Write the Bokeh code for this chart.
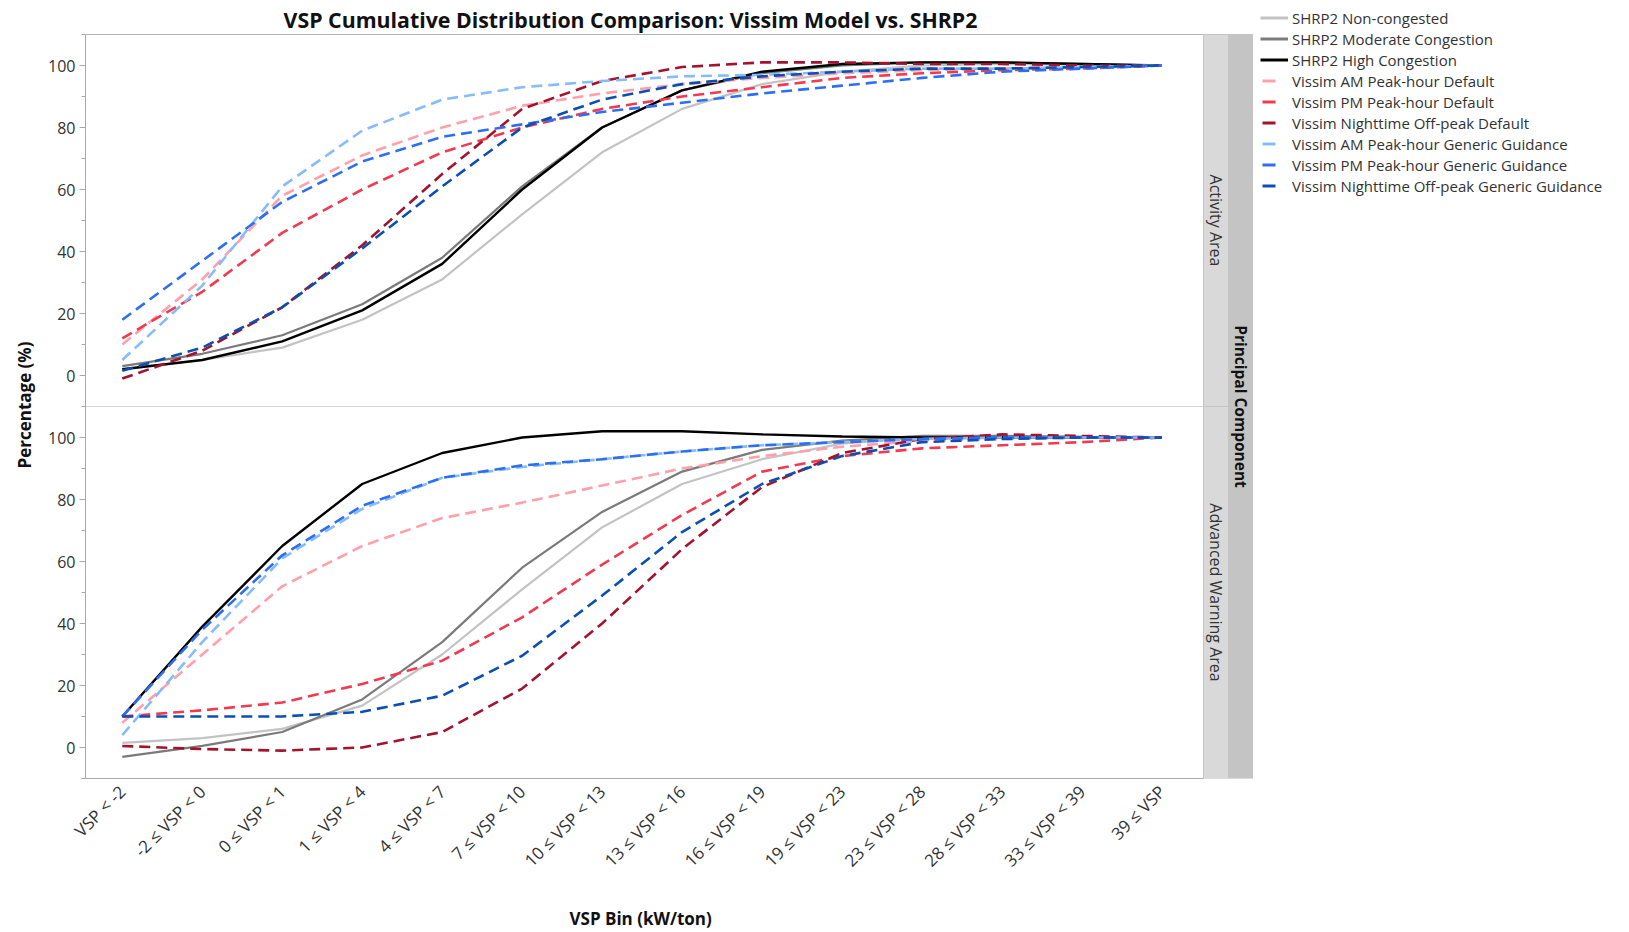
import math
from bokeh.plotting import figure
from bokeh.models import (Range1d, FixedTicker, Legend, LegendItem, Label, Title)
from bokeh.core.properties import value
from bokeh.embed import file_html
from bokeh.resources import INLINE

# ---------------- data ----------------
categories = ["VSP < -2", "-2 \u2264 VSP < 0", "0 \u2264 VSP < 1", "1 \u2264 VSP < 4",
              "4 \u2264 VSP < 7", "7 \u2264 VSP < 10", "10 \u2264 VSP < 13", "13 \u2264 VSP < 16",
              "16 \u2264 VSP < 19", "19 \u2264 VSP < 23", "23 \u2264 VSP < 28", "28 \u2264 VSP < 33",
              "33 \u2264 VSP < 39", "39 \u2264 VSP"]

series_names = ["SHRP2 Non-congested", "SHRP2 Moderate Congestion", "SHRP2 High Congestion",
                "Vissim AM Peak-hour Default", "Vissim PM Peak-hour Default",
                "Vissim Nighttime Off-peak Default", "Vissim AM Peak-hour Generic Guidance",
                "Vissim PM Peak-hour Generic Guidance", "Vissim Nighttime Off-peak Generic Guidance"]

# Activity Area
act_shrp2_non = [2, 5, 9, 18, 31, 52, 72, 86, 94, 98, 100, 100.5, 100.3, 100]
act_shrp2_mod = [3, 7, 13, 23, 38, 61, 80, 92, 97.5, 100, 101, 101, 100.5, 100]
act_shrp2_high = [2, 5, 11, 21, 36, 60, 80, 92, 98, 100.5, 101, 101, 100.5, 100]
act_am_default = [10, 31, 58, 71, 80, 87, 91, 94, 96, 97.5, 98.5, 99, 99.5, 100]
act_pm_default = [12, 27, 46, 60, 72, 80, 86, 90, 93, 96, 97.5, 98.5, 99, 100]
act_night_default = [-1, 8, 22, 42, 65, 86, 95, 99.5, 101, 101, 100.5, 100.5, 100, 100]
act_am_generic = [5, 29, 61, 79, 89, 93, 95, 96.5, 97, 98, 99, 99, 99.5, 100]
act_pm_generic = [18, 37, 56, 69, 77, 81, 85, 88, 91, 93.5, 96, 98, 99, 100]
act_night_generic = [1.5, 9, 22, 41, 61, 80, 89, 94, 96.5, 98, 99, 99, 99.5, 100]

# Advanced Warning Area
adv_shrp2_non = [1.5, 3, 6, 13.5, 30, 51, 71, 85, 93, 98, 100, 100.5, 100.2, 100]
adv_shrp2_mod = [-3, 0.5, 5, 15.5, 34, 58, 76, 89, 96, 99, 100.5, 100.5, 100.2, 100]
adv_shrp2_high = [10, 39, 65, 85, 95, 100, 102, 102, 101, 100.3, 100, 100, 100, 100]
adv_am_default = [8, 30, 52, 65, 74, 79, 84.5, 90, 94, 97, 99, 99.5, 100, 100]
adv_pm_default = [10, 12, 14.5, 20.5, 28, 42, 59, 75, 89, 94, 96.5, 97.5, 98.5, 100]
adv_night_default = [0.5, -0.5, -1, 0, 5, 19, 40, 64, 84, 95, 99.5, 101, 100.5, 100]
adv_am_generic = [4, 34, 61, 77, 87, 90.5, 93, 95.5, 97.5, 98.5, 99.5, 100, 100, 100]
adv_pm_generic = [10, 38, 62, 78, 87, 91, 93, 95.5, 97.5, 98.5, 99.5, 100, 100, 100]
adv_night_generic = [10, 10, 10, 11.5, 16.7, 29.6, 49, 69.5, 85, 94, 98.5, 99.5, 100, 100]

activity = [act_shrp2_non, act_shrp2_mod, act_shrp2_high, act_am_default, act_pm_default,
            act_night_default, act_am_generic, act_pm_generic, act_night_generic]
advanced = [adv_shrp2_non, adv_shrp2_mod, adv_shrp2_high, adv_am_default, adv_pm_default,
            adv_night_default, adv_am_generic, adv_pm_generic, adv_night_generic]

y_ticks = [0, 20, 40, 60, 80, 100]
panel_names = ["Activity Area", "Advanced Warning Area"]
outer_name = "Principal Component"
title_text = "VSP Cumulative Distribution Comparison: Vissim Model vs. SHRP2"
x_title = "VSP Bin (kW/ton)"
y_title = "Percentage (%)"

# ---------------- styles / layout ----------------
colors = ["#c3c3c3", "#7a7a7a", "#000000", "#ffa0ab", "#f23a4f", "#a3132e",
          "#86bcff", "#2d6ff2", "#0b4fb3"]
dashes = ["solid", "solid", "solid"] + ["11 6"] * 6
widths = [2.2, 2.2, 2.4] + [2.6] * 6

W, H = 1629, 932
left_px = 85            # frame left (px)
panel_top_px = 34       # top of upper panel (px)
bottom_px = 778         # frame bottom (px)
plot_right_px = 1203    # right edge of plotting area (px)
strip1_px, strip2_px = 25, 24
x0, x1 = -0.46, 13.52
ppu = (plot_right_px - left_px) / (x1 - x0)        # px per category
ppy = (bottom_px - panel_top_px) / 240.0          # px per y unit
OFF = 120                                          # offset of upper panel
xs1 = x1 + strip1_px / ppu
xs2 = xs1 + strip2_px / ppu
x_end = x0 + (W - left_px) / ppu
y_top = 230 + panel_top_px / ppy

p = figure(width=W, height=H, output_backend="svg", toolbar_location=None, title=None,
           x_range=Range1d(x0, x_end), y_range=Range1d(-10, y_top),
           min_border_left=left_px, min_border_right=0,
           min_border_top=0, min_border_bottom=H - bottom_px)
p.background_fill_color = "white"
p.border_fill_color = "white"
p.outline_line_color = None
p.xgrid.visible = False
p.ygrid.visible = False

# title
p.add_layout(Label(x=x0 + (630 - left_px) / ppu, y=y_top - 19 / ppy, text=title_text,
                   text_align="center", text_baseline="middle", text_font="Open Sans",
                   text_font_style="bold", text_font_size="21.3px", text_color="#111111"))

# panel border (top) and strips
p.segment(x0=[x0], x1=[xs2], y0=[230], y1=[230], line_color="#b4b4b4", line_width=1.2)
p.quad(left=[x1, x1], right=[xs1, xs1], bottom=[-10 + OFF, -10], top=[110 + OFF, 110],
       fill_color="#d9d9d9", line_color="#c4c4c4", line_width=1)
p.quad(left=[xs1], right=[xs2], bottom=[-10], top=[230],
       fill_color="#c4c4c4", line_color="#c4c4c4", line_width=1)
p.text(x=[(x1 + xs1) / 2] * 2, y=[50 + OFF, 50], text=panel_names, angle=-math.pi / 2,
       text_align="center", text_baseline="middle", text_font=value("Open Sans"),
       text_font_size="16px", text_color="#333333")
p.text(x=[(xs1 + xs2) / 2], y=[110], text=[outer_name], angle=-math.pi / 2,
       text_align="center", text_baseline="middle", text_font=value("Open Sans"),
       text_font_size="15.5px", text_font_style="bold", text_color="#111111")

# separator between panels
p.segment(x0=[x0], x1=[x1], y0=[110], y1=[110], line_color="#d4d4d4", line_width=1.2)

xs = list(range(len(categories)))
items = []
for name, up, lo, c, d, w in zip(series_names, activity, advanced, colors, dashes, widths):
    p.line(x=xs, y=[v + OFF for v in up], line_color=c, line_dash=d, line_width=w)
    p.line(x=xs, y=lo, line_color=c, line_dash=d, line_width=w)
    # legend swatch (no visible mark in the plot)
    if d == "solid":
        sw = p.line(x=[float("nan")], y=[float("nan")], line_color=c, line_width=3)
    else:
        sw = p.line(x=[float("nan")], y=[float("nan")], line_color=c, line_width=3,
                    line_dash="13 40", line_dash_offset=-2)
    items.append(LegendItem(label=name, renderers=[sw]))

# axes
p.xaxis.bounds = (x0, x1)
p.xaxis.ticker = FixedTicker(ticks=xs)
p.xaxis.major_label_overrides = {i: c for i, c in enumerate(categories)}
p.xaxis.major_label_orientation = math.pi / 4
p.xaxis.major_label_text_font = "Open Sans"
p.xaxis.major_label_text_font_size = "17px"
p.xaxis.major_label_text_color = "#333333"
p.xaxis.major_tick_line_color = None
p.xaxis.minor_tick_line_color = None
p.xaxis.axis_line_color = "#a8a8a8"
p.xaxis.major_label_standoff = 4
# invisible spacer label pushing the x title (below) further down
p.xaxis.axis_label = " "
p.xaxis.axis_label_text_font_size = "1px"
p.xaxis.axis_label_standoff = 17

yt = y_ticks + [t + OFF for t in y_ticks]
p.yaxis.bounds = (-10, 230)
p.yaxis.ticker = FixedTicker(ticks=yt, minor_ticks=[-10, 10, 30, 50, 70, 90, 110, 130, 150, 170, 190, 210, 230])
p.yaxis.major_label_overrides = {**{t: str(t) for t in y_ticks}, **{t + OFF: str(t) for t in y_ticks}}
p.yaxis.major_label_text_font = "Open Sans"
p.yaxis.major_label_text_font_size = "16px"
p.yaxis.major_label_text_color = "#333333"
p.yaxis.axis_line_color = "#a8a8a8"
p.yaxis.major_tick_line_color = "#a8a8a8"
p.yaxis.minor_tick_line_color = "#a8a8a8"
p.yaxis.major_tick_out = 6
p.yaxis.major_tick_in = 0
p.yaxis.minor_tick_out = 4
p.yaxis.minor_tick_in = 0
p.yaxis.major_label_standoff = 4

# axis titles as side titles so they can be placed like the reference
p.add_layout(Title(text=y_title, align="left", offset=310, standoff=20,
                   text_font="Open Sans", text_font_style="bold", text_font_size="17px",
                   text_color="#111111"), "left")
p.add_layout(Title(text=x_title, align="left", offset=484, standoff=2,
                   text_font="Open Sans", text_font_style="bold", text_font_size="17px",
                   text_color="#111111"), "below")

# legend (inside the wide frame, top-right of the page)
legend = Legend(items=items, location=(1260 - left_px, bottom_px - 196),
                glyph_width=28, glyph_height=21, label_height=21, spacing=0,
                padding=0, margin=0, label_standoff=4,
                label_text_font="Open Sans", label_text_font_size="15px",
                label_text_color="#333333", border_line_color=None,
                background_fill_alpha=0)
p.add_layout(legend, "center")

open("out.html", "w").write(file_html(p, INLINE))
